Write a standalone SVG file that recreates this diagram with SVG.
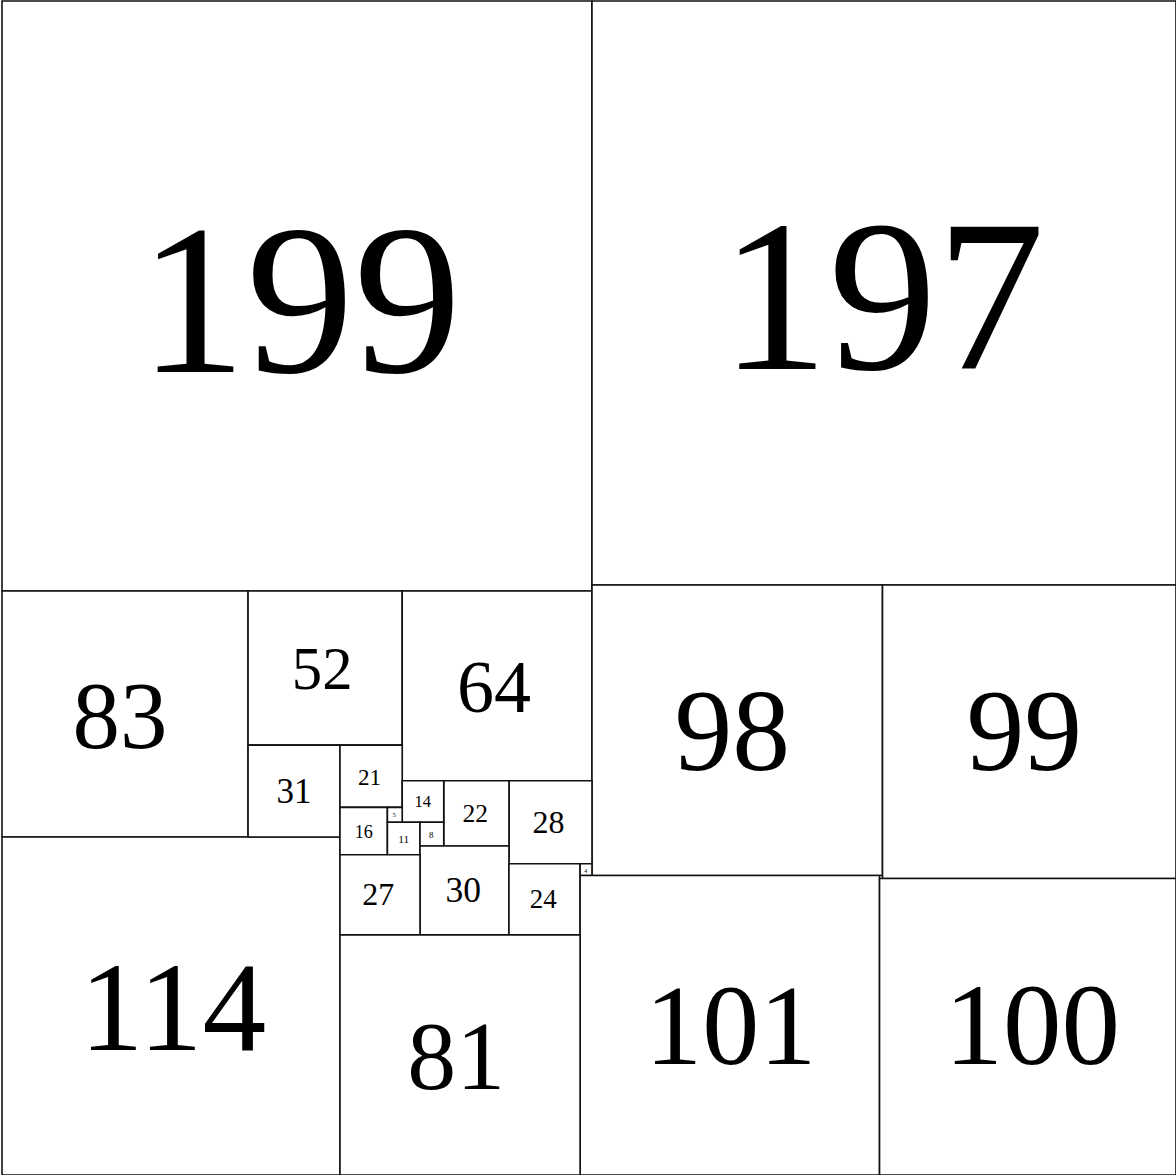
<svg xmlns="http://www.w3.org/2000/svg" width="1176" height="1175" viewBox="0 0 1176 1175">
<style>
rect{fill:#fff;stroke:#111;stroke-width:1.6;vector-effect:non-scaling-stroke}
text{font-family:"Liberation Serif","Times New Roman",serif;text-anchor:middle;fill:#000}
</style>
<rect x="0" y="0" width="1176" height="1175" style="stroke:none"/>
<g transform="translate(2,1) scale(2.96465)">
<g id="n199"><rect x="0" y="0" width="199" height="199"/><text x="100.5" y="125" font-size="72.5">199</text></g>
<g id="n197"><rect x="199" y="0" width="197" height="197"/><text x="297" y="124.2" font-size="73">197</text></g>
<g id="n83"><rect x="0" y="199" width="83" height="83"/><text x="39.8" y="252" font-size="32">83</text></g>
<g id="n52"><rect x="83" y="199" width="52" height="52"/><text x="108" y="232.2" font-size="20.5">52</text></g>
<g id="n64"><rect x="135" y="199" width="64" height="64"/><text x="166" y="239.8" font-size="25">64</text></g>
<g id="n98"><rect x="199" y="197" width="98" height="98"/><text x="246.3" y="259.4" font-size="39">98</text></g>
<g id="n99"><rect x="297" y="197" width="99" height="99"/><text x="344.8" y="259.4" font-size="39">99</text></g>
<g id="n114"><rect x="0" y="282" width="114" height="114"/><text x="57.7" y="353.8" font-size="43">114</text></g>
<g id="n31"><rect x="83" y="251" width="31" height="31"/><text x="98.5" y="270.5" font-size="11.8">31</text></g>
<g id="n21"><rect x="114" y="251" width="21" height="21"/><text x="124" y="264.4" font-size="7.8">21</text></g>
<g id="n28"><rect x="171" y="263" width="28" height="28"/><text x="184.3" y="280.7" font-size="10.8">28</text></g>
<g id="n22"><rect x="149" y="263" width="22" height="22"/><text x="159.6" y="277" font-size="8.6">22</text></g>
<g id="n14"><rect x="135" y="263" width="14" height="14"/><text x="141.9" y="272" font-size="5.6">14</text></g>
<g id="n16"><rect x="114" y="272" width="16" height="16"/><text x="122" y="282.4" font-size="6.1">16</text></g>
<g id="n5"><rect x="130" y="272" width="5" height="5"/><text x="132.3" y="275.1" font-size="2.3">5</text></g>
<g id="n11"><rect x="130" y="277" width="11" height="11"/><text x="135.5" y="283.9" font-size="3.8">11</text></g>
<g id="n8"><rect x="141" y="277" width="8" height="8"/><text x="144.8" y="282.2" font-size="3">8</text></g>
<g id="n30"><rect x="141" y="285" width="30" height="30"/><text x="155.6" y="304" font-size="12">30</text></g>
<g id="n27"><rect x="114" y="288" width="27" height="27"/><text x="126.9" y="304.9" font-size="10.8">27</text></g>
<g id="n24"><rect x="171" y="291" width="24" height="24"/><text x="182.6" y="306" font-size="9.1">24</text></g>
<g id="n4"><rect x="195" y="291" width="4" height="4"/><text x="196.9" y="294.2" font-size="2">4</text></g>
<g id="n101"><rect x="195" y="295" width="101" height="101"/><text x="245.8" y="358.6" font-size="38.5">101</text></g>
<g id="n100"><rect x="296" y="296" width="100" height="100"/><text x="347.5" y="358.6" font-size="39.5">100</text></g>
<g id="n81"><rect x="114" y="315" width="81" height="81"/><text x="153.2" y="367" font-size="33">81</text></g>
</g>
<g id="connectors"/>
</svg>
